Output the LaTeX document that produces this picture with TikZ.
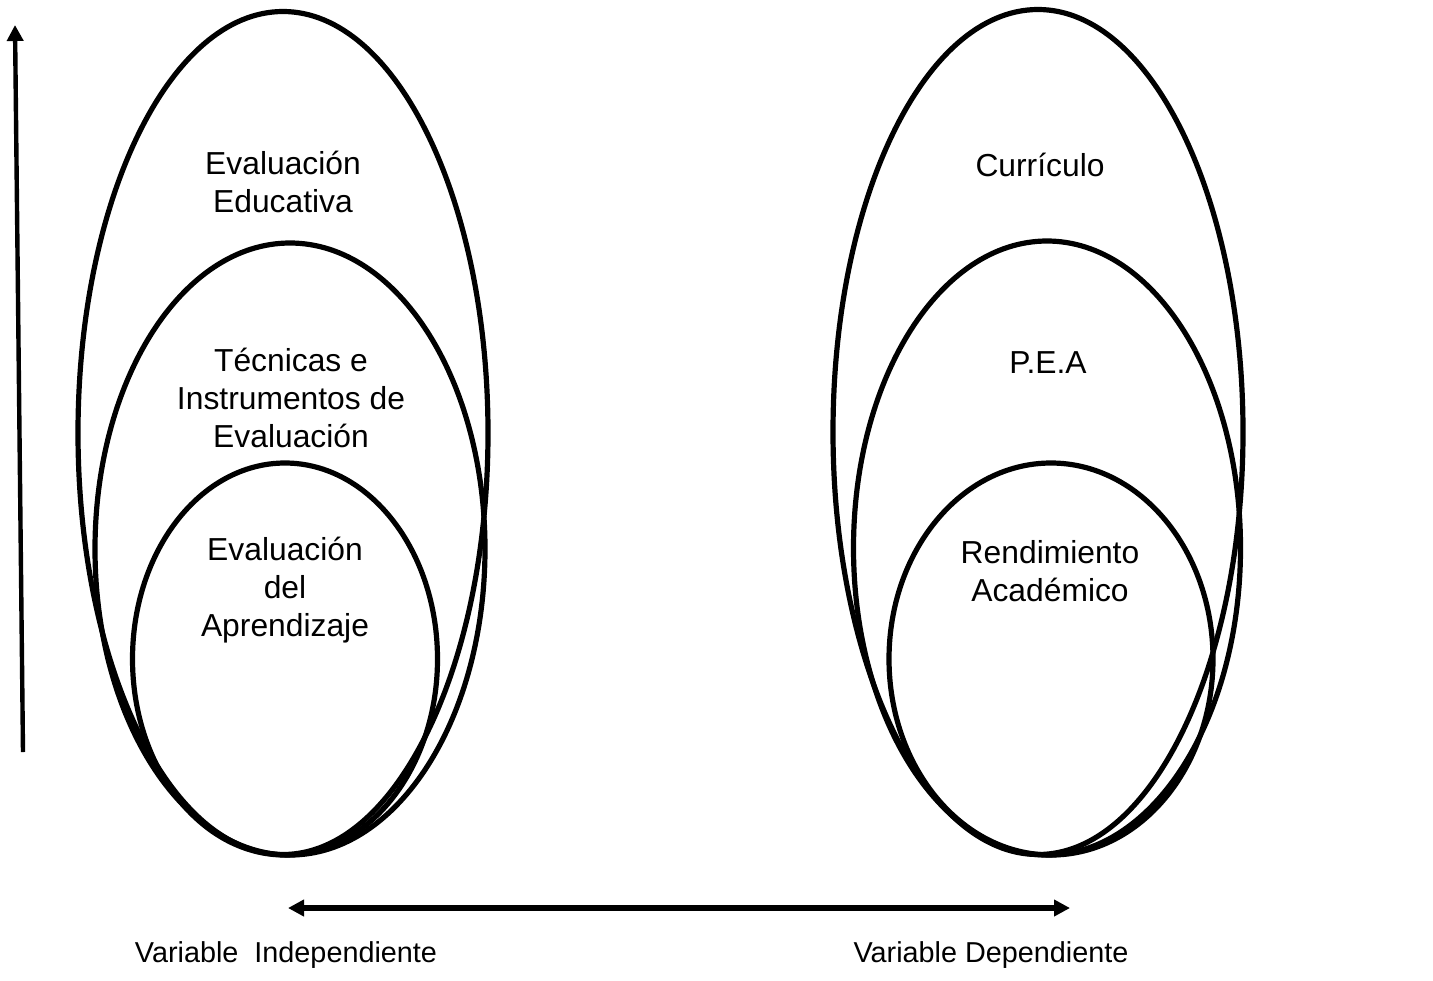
\documentclass[tikz,border=0pt]{standalone}
\usepackage{fontspec}
\setmainfont{Liberation Sans}
\usetikzlibrary{shapes.geometric,arrows.meta,positioning}

\begin{document}
\begin{tikzpicture}[x=0.5pt, y=-0.5pt,
    ring/.style={ellipse, draw, line width=2.6pt, inner sep=0pt},
    lbl/.style={font=\fontsize{15.9}{19}\selectfont, align=center},
    varlbl/.style={font=\fontsize{14.4}{17}\selectfont},
    arrow/.style={line width=2.2pt, >={Triangle[length=8pt,width=8pt]}}
]
\useasboundingbox (0,0) rectangle (1433,980);

% variable independiente
\node[ring, minimum width=205pt, minimum height=421.5pt] (edu) at (283,433) {};
\node[ring, minimum width=195pt, minimum height=306pt] (tec) at (290,549) {};
\node[ring, minimum width=152.5pt, minimum height=196pt] (apr) at (285,659) {};

\node[lbl] (edu-txt) at (283,182) {Evaluación\\Educativa};
\node[lbl] (tec-txt) at (291,398) {Técnicas e\\Instrumentos de\\Evaluación};
\node[lbl] (apr-txt) at (285,590) {Evaluación\\del\\Aprendizaje};

% variable dependiente
\node[ring, minimum width=205pt, minimum height=422.5pt] (cur) at (1038,432) {};
\node[ring, minimum width=193.5pt, minimum height=307pt] (pea) at (1047,548) {};
\node[ring, minimum width=162pt, minimum height=196pt] (ren) at (1051,659) {};

\node[lbl] (cur-txt) at (1040,165) {Currículo};
\node[lbl] (pea-txt) at (1048,363) {P.E.A};
\node[lbl] (ren-txt) at (1050,571) {Rendimiento\\Académico};

% flechas
\coordinate (vbot) at (23,752);
\coordinate (vtop) at (15,25);
\coordinate (hl) at (288,908);
\coordinate (hr) at (1070,908);
\draw[arrow, ->] (vbot) -- (vtop);
\draw[arrow, <->, line width=2.6pt] (hl) -- (hr);

\node[varlbl] (vi) at (286,955) {Variable\ \ Independiente};
\node[varlbl] (vd) at (991,955) {Variable Dependiente};

\end{tikzpicture}
\end{document}
